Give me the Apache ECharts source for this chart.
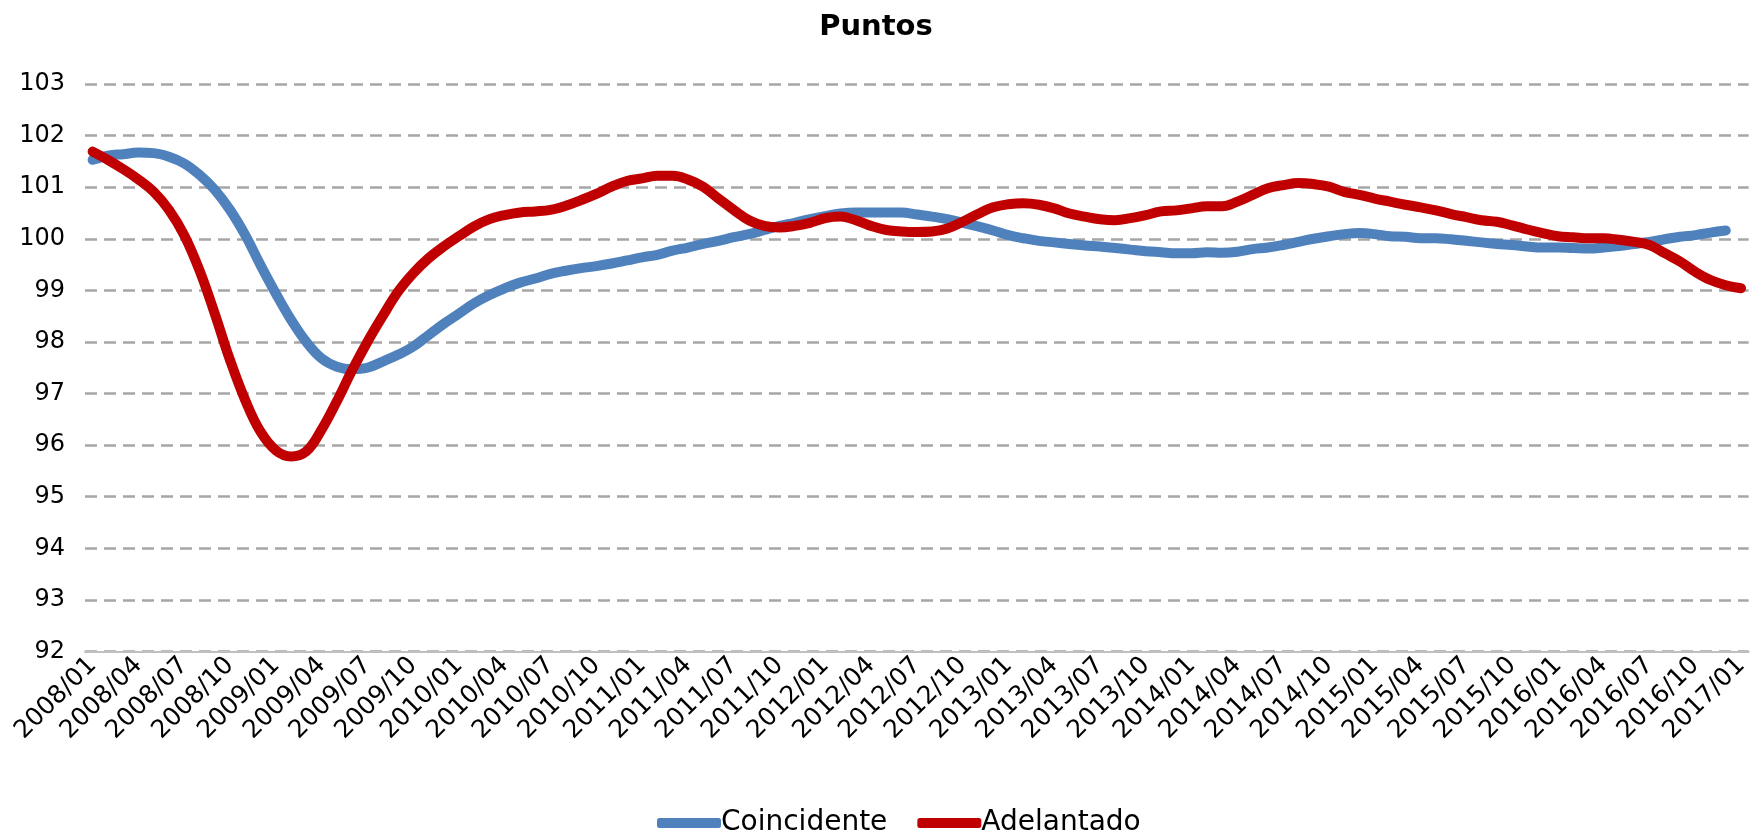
<!DOCTYPE html>
<html>
<head>
<meta charset="utf-8">
<script src="https://cdn.jsdelivr.net/npm/echarts@6/dist/echarts.min.js"></script>
<style>
  html, body { margin: 0; padding: 0; background: #ffffff; }
  #chart { width: 1752px; height: 837px; }
</style>
</head>
<body>
<div id="chart"></div>
<script>
// Monthly months 2008/01 .. 2017/01
const categories = [];
for (let y = 2008; y <= 2017; y++) {
  for (let m = 1; m <= 12; m++) {
    if (y === 2017 && m > 1) break;
    categories.push(y + '/' + String(m).padStart(2, '0'));
  }
}

// Índice coincidente (ends 2016/12)
const coincidente = [
  101.53, 101.61, 101.64, 101.67, 101.66, 101.59, 101.46, 101.24, 100.95, 100.56,
  100.07, 99.49, 98.94, 98.43, 98.00, 97.68, 97.52, 97.47, 97.50,
  97.62, 97.75, 97.91, 98.13, 98.35, 98.55, 98.75, 98.91, 99.04, 99.15,
  99.23, 99.32, 99.38, 99.43, 99.47, 99.52, 99.58, 99.64,
  99.69, 99.77, 99.83, 99.90, 99.96, 100.03, 100.09, 100.17, 100.25, 100.31,
  100.38, 100.44, 100.49, 100.51, 100.51, 100.51, 100.51, 100.47,
  100.43, 100.38, 100.31, 100.24, 100.16, 100.07, 100.01, 99.96, 99.93, 99.90,
  99.87, 99.85, 99.82, 99.79, 99.76, 99.74, 99.72, 99.72, 99.74,
  99.73, 99.75, 99.80, 99.83, 99.88, 99.94, 100.00, 100.05, 100.09,
  100.11, 100.09, 100.05, 100.04, 100.01, 100.01, 99.99, 99.96, 99.93,
  99.90, 99.88, 99.85, 99.83, 99.83, 99.82, 99.81, 99.83,
  99.86, 99.90, 99.94, 99.99, 100.04, 100.07, 100.12, 100.16
];

// Índice adelantado (ends 2017/01)
const adelantado = [
  101.69, 101.53, 101.35, 101.15, 100.91, 100.56, 100.07, 99.39, 98.55, 97.65,
  96.87, 96.26, 95.90, 95.78, 95.88, 96.30, 96.85, 97.45, 98.00,
  98.50, 98.97, 99.33, 99.62, 99.85, 100.05, 100.24, 100.38, 100.46,
  100.51, 100.53, 100.56, 100.64, 100.75, 100.87, 101.01, 101.12, 101.17,
  101.22, 101.22, 101.15, 101.01, 100.78, 100.56, 100.36, 100.25, 100.22,
  100.25, 100.31, 100.40, 100.43, 100.36, 100.25, 100.17, 100.14, 100.13,
  100.14, 100.20, 100.33, 100.48, 100.61, 100.67, 100.69, 100.66, 100.59,
  100.49, 100.43, 100.38, 100.36, 100.40, 100.46, 100.53, 100.55, 100.59, 100.63,
  100.63, 100.72, 100.85, 100.98, 101.04, 101.08, 101.06, 101.01, 100.91,
  100.85, 100.78, 100.72, 100.66, 100.61, 100.55, 100.48, 100.42, 100.36,
  100.33, 100.26, 100.18, 100.11, 100.05, 100.03, 100.01, 100.01, 99.98,
  99.94, 99.88, 99.72, 99.56, 99.36, 99.20, 99.10, 99.04
];

const yTicks = { min: 92, max: 103, step: 1 };

const FONT = 'DejaVu Sans';
const chart = echarts.init(document.getElementById('chart'), null, { renderer: 'canvas' });

chart.setOption({
  backgroundColor: '#ffffff',
  animation: false,
  title: {
    text: 'Puntos',
    left: 'center',
    top: 8,
    textStyle: { fontFamily: FONT, fontSize: 29, fontWeight: 'bold', color: '#000000' }
  },
  legend: {
    bottom: -5,
    left: 652,
    icon: 'roundRect',
    itemWidth: 64,
    itemHeight: 10,
    itemGap: 30,
    textStyle: { fontFamily: FONT, fontSize: 28, color: '#000000', padding: [0, 0, 0, -5] },
    data: ['Coincidente', 'Adelantado']
  },
  grid: { left: 85, right: 3, top: 84, bottom: 185.5, containLabel: false },
  xAxis: {
    type: 'category',
    data: categories,
    boundaryGap: true,
    axisLine: { show: true, lineStyle: { color: '#BFBFBF', width: 2 } },
    axisTick: { show: false },
    axisLabel: {
      interval: 2,
      rotate: 45,
      margin: 10,
      fontFamily: FONT,
      fontSize: 25,
      color: '#000000'
    },
    splitLine: { show: false }
  },
  yAxis: {
    type: 'value',
    min: yTicks.min,
    max: yTicks.max,
    interval: yTicks.step,
    axisLine: { show: false },
    axisTick: { show: false },
    axisLabel: { fontFamily: FONT, fontSize: 24, color: '#000000', margin: 20 },
    splitLine: { show: true, lineStyle: { color: '#A6A6A6', width: 2.5, type: [12, 7] } }
  },
  series: [
    {
      name: 'Coincidente',
      type: 'line',
      data: coincidente,
      smooth: 0.4,
      showSymbol: false,
      symbol: 'none',
      itemStyle: { color: '#4F81BD' },
      lineStyle: { color: '#4F81BD', width: 10, cap: 'round', join: 'round' },
      z: 2
    },
    {
      name: 'Adelantado',
      type: 'line',
      data: adelantado,
      smooth: 0.4,
      showSymbol: false,
      symbol: 'none',
      itemStyle: { color: '#C00000' },
      lineStyle: { color: '#C00000', width: 10, cap: 'round', join: 'round' },
      z: 3
    }
  ]
});
</script>
</body>
</html>
